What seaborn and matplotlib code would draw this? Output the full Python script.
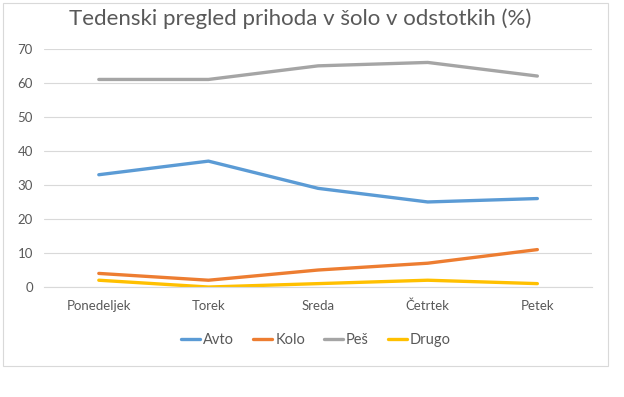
import numpy as np
import pandas as pd
import matplotlib.pyplot as plt
import matplotlib.patches as patches
import seaborn as sns

# data
days = ['Ponedeljek', 'Torek', 'Sreda', 'Četrtek', 'Petek']
avto = [33, 37, 29, 25, 26]
kolo = [4, 2, 5, 7, 11]
pes = [61, 61, 65, 66, 62]
drugo = [2, 0, 1, 2, 1]
series_names = ['Avto', 'Kolo', 'Peš', 'Drugo']
colors = ['#5B9BD5', '#ED7D31', '#A5A5A5', '#FFC000']

df = pd.DataFrame({'Dan': days, 'Avto': avto, 'Kolo': kolo, 'Peš': pes, 'Drugo': drugo})
long_df = df.melt(id_vars='Dan', var_name='Način', value_name='Delež')
long_df['x'] = long_df['Dan'].map({d: i for i, d in enumerate(days)})

sns.set_style('white')
plt.rcParams['font.family'] = ['Lato', 'DejaVu Sans']
text_color = '#595959'

fig = plt.figure(figsize=(6.24, 3.97), dpi=100)
ax = fig.add_axes([0.0705, 0.277, 0.8785, 0.600])

sns.lineplot(data=long_df, x='x', y='Delež', hue='Način', hue_order=series_names,
             palette=colors, linewidth=2.4, ax=ax, legend=True)

ax.set_xlim(-0.5, 4.5)
ax.set_ylim(0, 70)
ax.set_yticks(range(0, 71, 10))
ax.set_xticks(range(len(days)))
ax.set_xticklabels(days)
ax.set_xlabel('')
ax.set_ylabel('')
ax.grid(axis='y', color='#D9D9D9', linewidth=0.8)
ax.set_axisbelow(True)
for s in ax.spines.values():
    s.set_visible(False)
ax.spines['bottom'].set_visible(True)
ax.spines['bottom'].set_color('#D9D9D9')
ax.tick_params(axis='both', length=0, labelsize=9.5, colors=text_color)
ax.tick_params(axis='x', pad=9)
ax.tick_params(axis='y', pad=8)

handles, labels = ax.get_legend_handles_labels()
ax.get_legend().remove()
fig.legend(handles, labels, loc='center', bbox_to_anchor=(316 / 624, 1 - 340 / 397),
           ncol=4, frameon=False, fontsize=10.5, labelcolor=text_color,
           handlelength=1.3, handletextpad=0.2, columnspacing=1.3)

fig.text(300 / 624, 1 - 19 / 397, 'Tedenski pregled prihoda v šolo v odstotkih (%)',
         ha='center', va='center', fontsize=16, color=text_color)

# chart area border
fig.patches.append(patches.Rectangle((3 / 624, 1 - 366 / 397), 605 / 624, 363 / 397,
                                     transform=fig.transFigure, fill=False,
                                     edgecolor='#D9D9D9', linewidth=0.8))

fig.savefig('out.png', dpi=100, facecolor='white')
